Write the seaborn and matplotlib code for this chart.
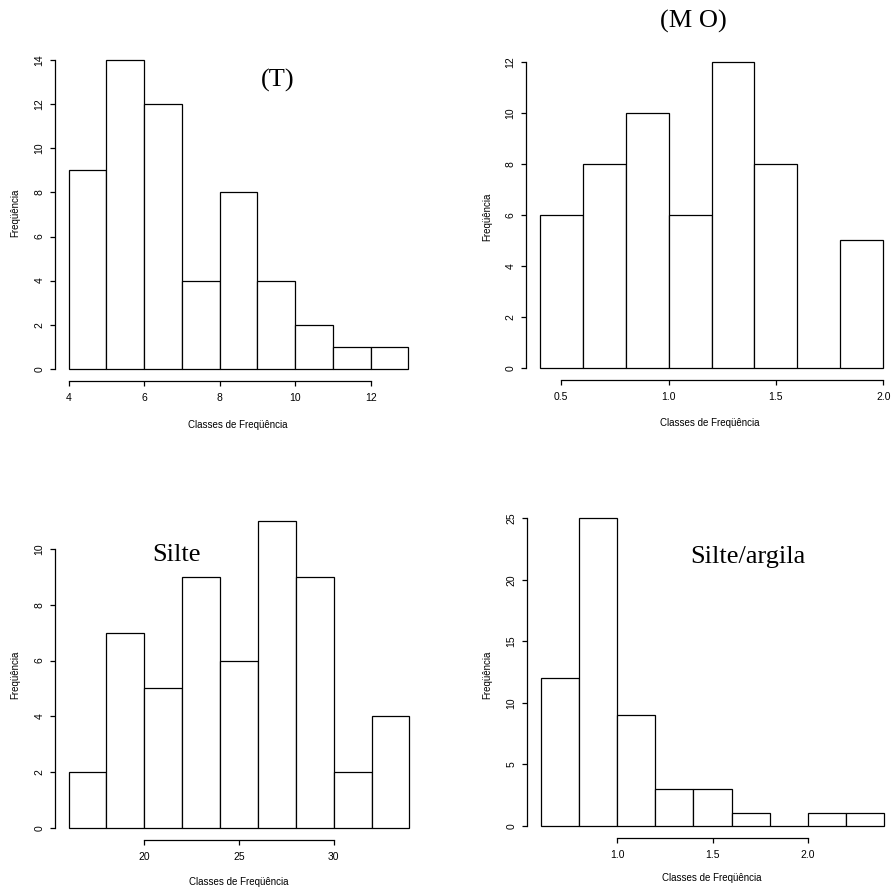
import matplotlib
matplotlib.use("Agg")
import matplotlib.pyplot as plt
import pandas as pd
import seaborn as sns

# ---- data (bin edges and counts) ----
t_edges = [4, 5, 6, 7, 8, 9, 10, 11, 12, 13]
t_counts = [9, 14, 12, 4, 8, 4, 2, 1, 1]
t_xticks = [4, 6, 8, 10, 12]
t_xlabels = ["4", "6", "8", "10", "12"]
t_yticks = [0, 2, 4, 6, 8, 10, 12, 14]

mo_edges = [0.4, 0.6, 0.8, 1.0, 1.2, 1.4, 1.6, 1.8, 2.0]
mo_counts = [6, 8, 10, 6, 12, 8, 0, 5]
mo_xticks = [0.5, 1.0, 1.5, 2.0]
mo_xlabels = ["0.5", "1.0", "1.5", "2.0"]
mo_yticks = [0, 2, 4, 6, 8, 10, 12]

si_edges = [16, 18, 20, 22, 24, 26, 28, 30, 32, 34]
si_counts = [2, 7, 5, 9, 6, 11, 9, 2, 4]
si_xticks = [20, 25, 30]
si_xlabels = ["20", "25", "30"]
si_yticks = [0, 2, 4, 6, 8, 10]

sa_edges = [0.6, 0.8, 1.0, 1.2, 1.4, 1.6, 1.8, 2.0, 2.2, 2.4]
sa_counts = [12, 25, 9, 3, 3, 1, 0, 1, 1]
sa_xticks = [1.0, 1.5, 2.0]
sa_xlabels = ["1.0", "1.5", "2.0"]
sa_yticks = [0, 5, 10, 15, 20, 25]

titles = ["(T)", "(M O)", "Silte", "Silte/argila"]
xlab = "Classes de Freqüência"
ylab = "Freqüência"

sns.set_style("ticks")
plt.rcParams["font.family"] = ["Liberation Sans", "DejaVu Sans"]
plt.rcParams["text.color"] = "black"

W, H = 891, 890
fig = plt.figure(figsize=(W / 100, H / 100), dpi=100)


def rect(left, right, top, bottom):
    return [left / W, 1 - bottom / H, (right - left) / W, (bottom - top) / H]


def fx(px):
    return px / W


def fy(py):
    return 1 - py / H


def panel(r, edges, counts, xticks, xlabels, yticks, ylabel_xy, xlabel_xy, title, title_xy):
    ax = fig.add_axes(r)
    centers = [(a + b) / 2 for a, b in zip(edges[:-1], edges[1:])]
    df = pd.DataFrame({"x": centers, "w": counts})
    sns.histplot(data=df, x="x", weights="w", bins=edges, ax=ax, stat="count",
                 color="white", edgecolor="black", linewidth=0.9, alpha=1.0)
    lo, hi = edges[0], edges[-1]
    ymax = max(counts)
    mx = 0.04 * (hi - lo)
    my = 0.04 * ymax
    ax.set_xlim(lo - mx, hi + mx)
    ax.set_ylim(-my, ymax + my)
    ax.set_xticks(xticks)
    ax.set_xticklabels(xlabels)
    ax.set_yticks(yticks)
    ax.set_yticklabels([str(v) for v in yticks], rotation=90, va="center")
    ax.spines["top"].set_visible(False)
    ax.spines["right"].set_visible(False)
    ax.spines["left"].set_bounds(yticks[0], yticks[-1])
    ax.spines["bottom"].set_bounds(xticks[0], xticks[-1])
    for s in ("left", "bottom"):
        ax.spines[s].set_linewidth(0.9)
        ax.spines[s].set_color("black")
    ax.tick_params(axis="both", direction="out", length=3.6, width=0.9,
                   labelsize=7.5, colors="black")
    ax.tick_params(axis="x", pad=5)
    ax.tick_params(axis="y", pad=4)
    ax.set_xlabel("")
    ax.set_ylabel("")
    fig.text(fx(ylabel_xy[0]), fy(ylabel_xy[1]), ylab, rotation=90,
             ha="center", va="center", fontsize=7, color="black")
    fig.text(fx(xlabel_xy[0]), fy(xlabel_xy[1]), xlab,
             ha="center", va="center", fontsize=7, color="black")
    fig.text(fx(title_xy[0]), fy(title_xy[1]), title, ha="center", va="center",
             fontsize=19, color="black", family=["Liberation Serif", "DejaVu Serif"])
    return ax


panel(rect(55, 422, 48, 381), t_edges, t_counts, t_xticks, t_xlabels, t_yticks,
      (15, 213), (238, 425), titles[0], (278, 80))
panel(rect(526, 897, 50, 380), mo_edges, mo_counts, mo_xticks, mo_xlabels, mo_yticks,
      (487, 217), (710, 423), titles[1], (693, 21))
panel(rect(55, 423, 509, 840), si_edges, si_counts, si_xticks, si_xlabels, si_yticks,
      (15, 675), (239, 882), titles[2], (176, 555))
panel(rect(527, 898, 506, 838), sa_edges, sa_counts, sa_xticks, sa_xlabels, sa_yticks,
      (487, 675), (712, 878), titles[3], (748, 557))

fig.savefig("out.png", dpi=100)
